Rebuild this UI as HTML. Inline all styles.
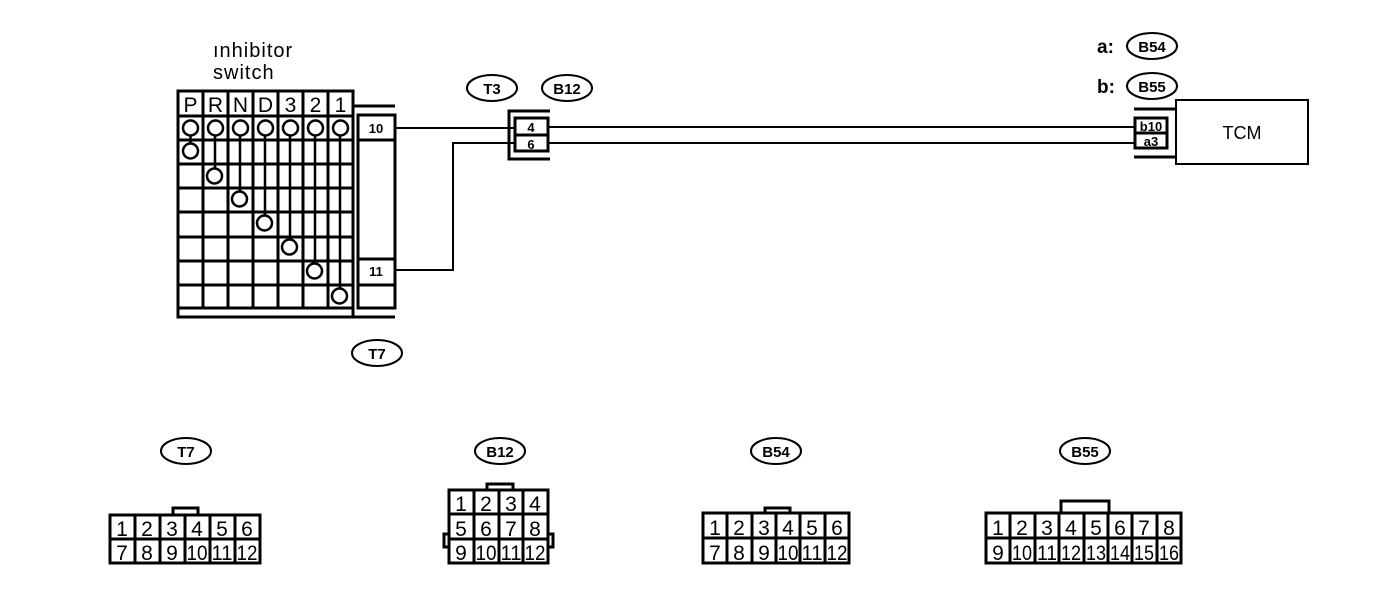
<!DOCTYPE html>
<html><head><meta charset="utf-8"><style>
html,body{margin:0;padding:0;background:#fff;}
svg{display:block;}
text{font-family:"Liberation Sans",sans-serif;fill:#000;}
.n{font-size:21px;text-anchor:middle;}
.s{font-size:13px;font-weight:bold;text-anchor:middle;}
.e{font-size:15px;text-anchor:middle;font-weight:bold;}
</style></head><body>
<svg width="1392" height="608" viewBox="0 0 1392 608" xmlns="http://www.w3.org/2000/svg">
<g fill="none" stroke="#000" stroke-width="3">
<rect x="178" y="91" width="175" height="217"/>
<path d="M203 91V308M228 91V308M253 91V308M278 91V308M303 91V308M328 91V308"/>
<path d="M178 116H353M178 140H353M178 164H353M178 188H353M178 212H353M178 237H353M178 261H353M178 285H353"/>
<path d="M178 308V317H395M353 91V317M353 106H395"/>
<rect x="358" y="115" width="37" height="193"/>
<path d="M358 140H395M358 259H395M358 285H395"/>
<g stroke-width="2.5">
<circle cx="190.5" cy="128" r="7.5"/><circle cx="215.5" cy="128" r="7.5"/><circle cx="240.5" cy="128" r="7.5"/><circle cx="265.5" cy="128" r="7.5"/><circle cx="290.5" cy="128" r="7.5"/><circle cx="315.5" cy="128" r="7.5"/><circle cx="340.5" cy="128" r="7.5"/>
<circle cx="190.5" cy="151" r="7.5"/><circle cx="214.5" cy="176" r="7.5"/><circle cx="239.5" cy="199" r="7.5"/><circle cx="264.5" cy="223" r="7.5"/><circle cx="289.5" cy="247" r="7.5"/><circle cx="314.5" cy="271" r="7.5"/><circle cx="339.5" cy="296" r="7.5"/>
<path d="M190.5 135V144M215 135V169M240 135V192M265 135V216M290 135V240M315 135V264M340 135V289"/>
</g>
<g stroke-width="2">
<path d="M395 128H515M395 270H453V143H515"/>
<path d="M548 127H1135M548 143H1135"/>
</g>
<path d="M550 111H509V159H550"/>
<rect x="515" y="118" width="33" height="33"/>
<path d="M515 135H548"/>
<rect x="1176" y="100" width="132" height="64" stroke-width="2"/>
<path d="M1134 109H1176M1134 157H1176"/>
<rect x="1135" y="118" width="32" height="30"/>
<path d="M1135 133H1167"/>
<g stroke-width="2">
<ellipse cx="492" cy="88" rx="25" ry="13"/>
<ellipse cx="567" cy="88" rx="25" ry="13"/>
<ellipse cx="377" cy="353" rx="25" ry="13"/>
<ellipse cx="1152" cy="46" rx="25" ry="13"/>
<ellipse cx="1152" cy="86" rx="25" ry="13"/>
<ellipse cx="186" cy="451" rx="25" ry="13"/>
<ellipse cx="500" cy="451" rx="25" ry="13"/>
<ellipse cx="776" cy="451" rx="25" ry="13"/>
<ellipse cx="1085" cy="451" rx="25" ry="13"/>
</g>
<rect x="110" y="515" width="150" height="48"/>
<path d="M135 515V563M160 515V563M185 515V563M210 515V563M235 515V563M110 539H260M173 515V508H198V515"/>
<rect x="449" y="490" width="99" height="73"/>
<path d="M474 490V563M499 490V563M523 490V563M449 514H548M449 539H548M487 490V484H513V490M449 534H444V547H449M548 534H553V547H548"/>
<rect x="703" y="513" width="146" height="50"/>
<path d="M727 513V563M752 513V563M776 513V563M800 513V563M825 513V563M703 538H849M765 513V508H790V513"/>
<rect x="986" y="513" width="195" height="50"/>
<path d="M1010 513V563M1035 513V563M1059 513V563M1084 513V563M1108 513V563M1132 513V563M1157 513V563M986 538H1181M1061 513V501H1109V513"/>
</g>
<text x="213" y="57" style="font-size:20px;letter-spacing:1px">ınhibitor</text>
<text x="213" y="79" style="font-size:20px;letter-spacing:1px">switch</text>
<g class="n">
<text x="190.5" y="112">P</text><text x="215.5" y="112">R</text><text x="240.5" y="112">N</text><text x="265.5" y="112">D</text><text x="290.5" y="112">3</text><text x="315.5" y="112">2</text><text x="340.5" y="112">1</text>
</g>
<text class="s" x="376" y="133">10</text>
<text class="s" x="376" y="276">11</text>
<text class="s" x="531" y="132">4</text>
<text class="s" x="531" y="149">6</text>
<text class="s" x="1151" y="131">b10</text>
<text class="s" x="1151" y="146">a3</text>
<text x="1242" y="139" style="font-size:18px;text-anchor:middle">TCM</text>
<g class="e">
<text x="492" y="94">T3</text><text x="567" y="94">B12</text><text x="377" y="359">T7</text>
<text x="1152" y="52">B54</text><text x="1152" y="92">B55</text>
<text x="186" y="457">T7</text><text x="500" y="457">B12</text><text x="776" y="457">B54</text><text x="1085" y="457">B55</text>
</g>
<text x="1097" y="53" style="font-size:19px;font-weight:bold">a:</text>
<text x="1097" y="93" style="font-size:19px;font-weight:bold">b:</text>
<g class="n">
<text x="122" y="536">1</text><text x="147" y="536">2</text><text x="172" y="536">3</text><text x="197" y="536">4</text><text x="222" y="536">5</text><text x="247" y="536">6</text>
<text x="122" y="560">7</text><text x="147" y="560">8</text><text x="172" y="560">9</text><text x="197" y="560" textLength="21" lengthAdjust="spacingAndGlyphs">10</text><text x="222" y="560" textLength="21" lengthAdjust="spacingAndGlyphs">11</text><text x="247" y="560" textLength="21" lengthAdjust="spacingAndGlyphs">12</text>
<text x="461" y="511">1</text><text x="486" y="511">2</text><text x="511" y="511">3</text><text x="535" y="511">4</text>
<text x="461" y="536">5</text><text x="486" y="536">6</text><text x="511" y="536">7</text><text x="535" y="536">8</text>
<text x="461" y="560">9</text><text x="486" y="560" textLength="21" lengthAdjust="spacingAndGlyphs">10</text><text x="511" y="560" textLength="21" lengthAdjust="spacingAndGlyphs">11</text><text x="535" y="560" textLength="21" lengthAdjust="spacingAndGlyphs">12</text>
<text x="715" y="535">1</text><text x="739" y="535">2</text><text x="764" y="535">3</text><text x="788" y="535">4</text><text x="812" y="535">5</text><text x="837" y="535">6</text>
<text x="715" y="560">7</text><text x="739" y="560">8</text><text x="764" y="560">9</text><text x="788" y="560" textLength="21" lengthAdjust="spacingAndGlyphs">10</text><text x="812" y="560" textLength="21" lengthAdjust="spacingAndGlyphs">11</text><text x="837" y="560" textLength="21" lengthAdjust="spacingAndGlyphs">12</text>
<text x="998" y="535">1</text><text x="1022" y="535">2</text><text x="1047" y="535">3</text><text x="1071" y="535">4</text><text x="1096" y="535">5</text><text x="1120" y="535">6</text><text x="1144" y="535">7</text><text x="1169" y="535">8</text>
<text x="998" y="560">9</text><text x="1022" y="560" textLength="20" lengthAdjust="spacingAndGlyphs">10</text><text x="1047" y="560" textLength="20" lengthAdjust="spacingAndGlyphs">11</text><text x="1071" y="560" textLength="20" lengthAdjust="spacingAndGlyphs">12</text><text x="1096" y="560" textLength="20" lengthAdjust="spacingAndGlyphs">13</text><text x="1120" y="560" textLength="20" lengthAdjust="spacingAndGlyphs">14</text><text x="1144" y="560" textLength="20" lengthAdjust="spacingAndGlyphs">15</text><text x="1169" y="560" textLength="20" lengthAdjust="spacingAndGlyphs">16</text>
</g>
</svg>
</body></html>
